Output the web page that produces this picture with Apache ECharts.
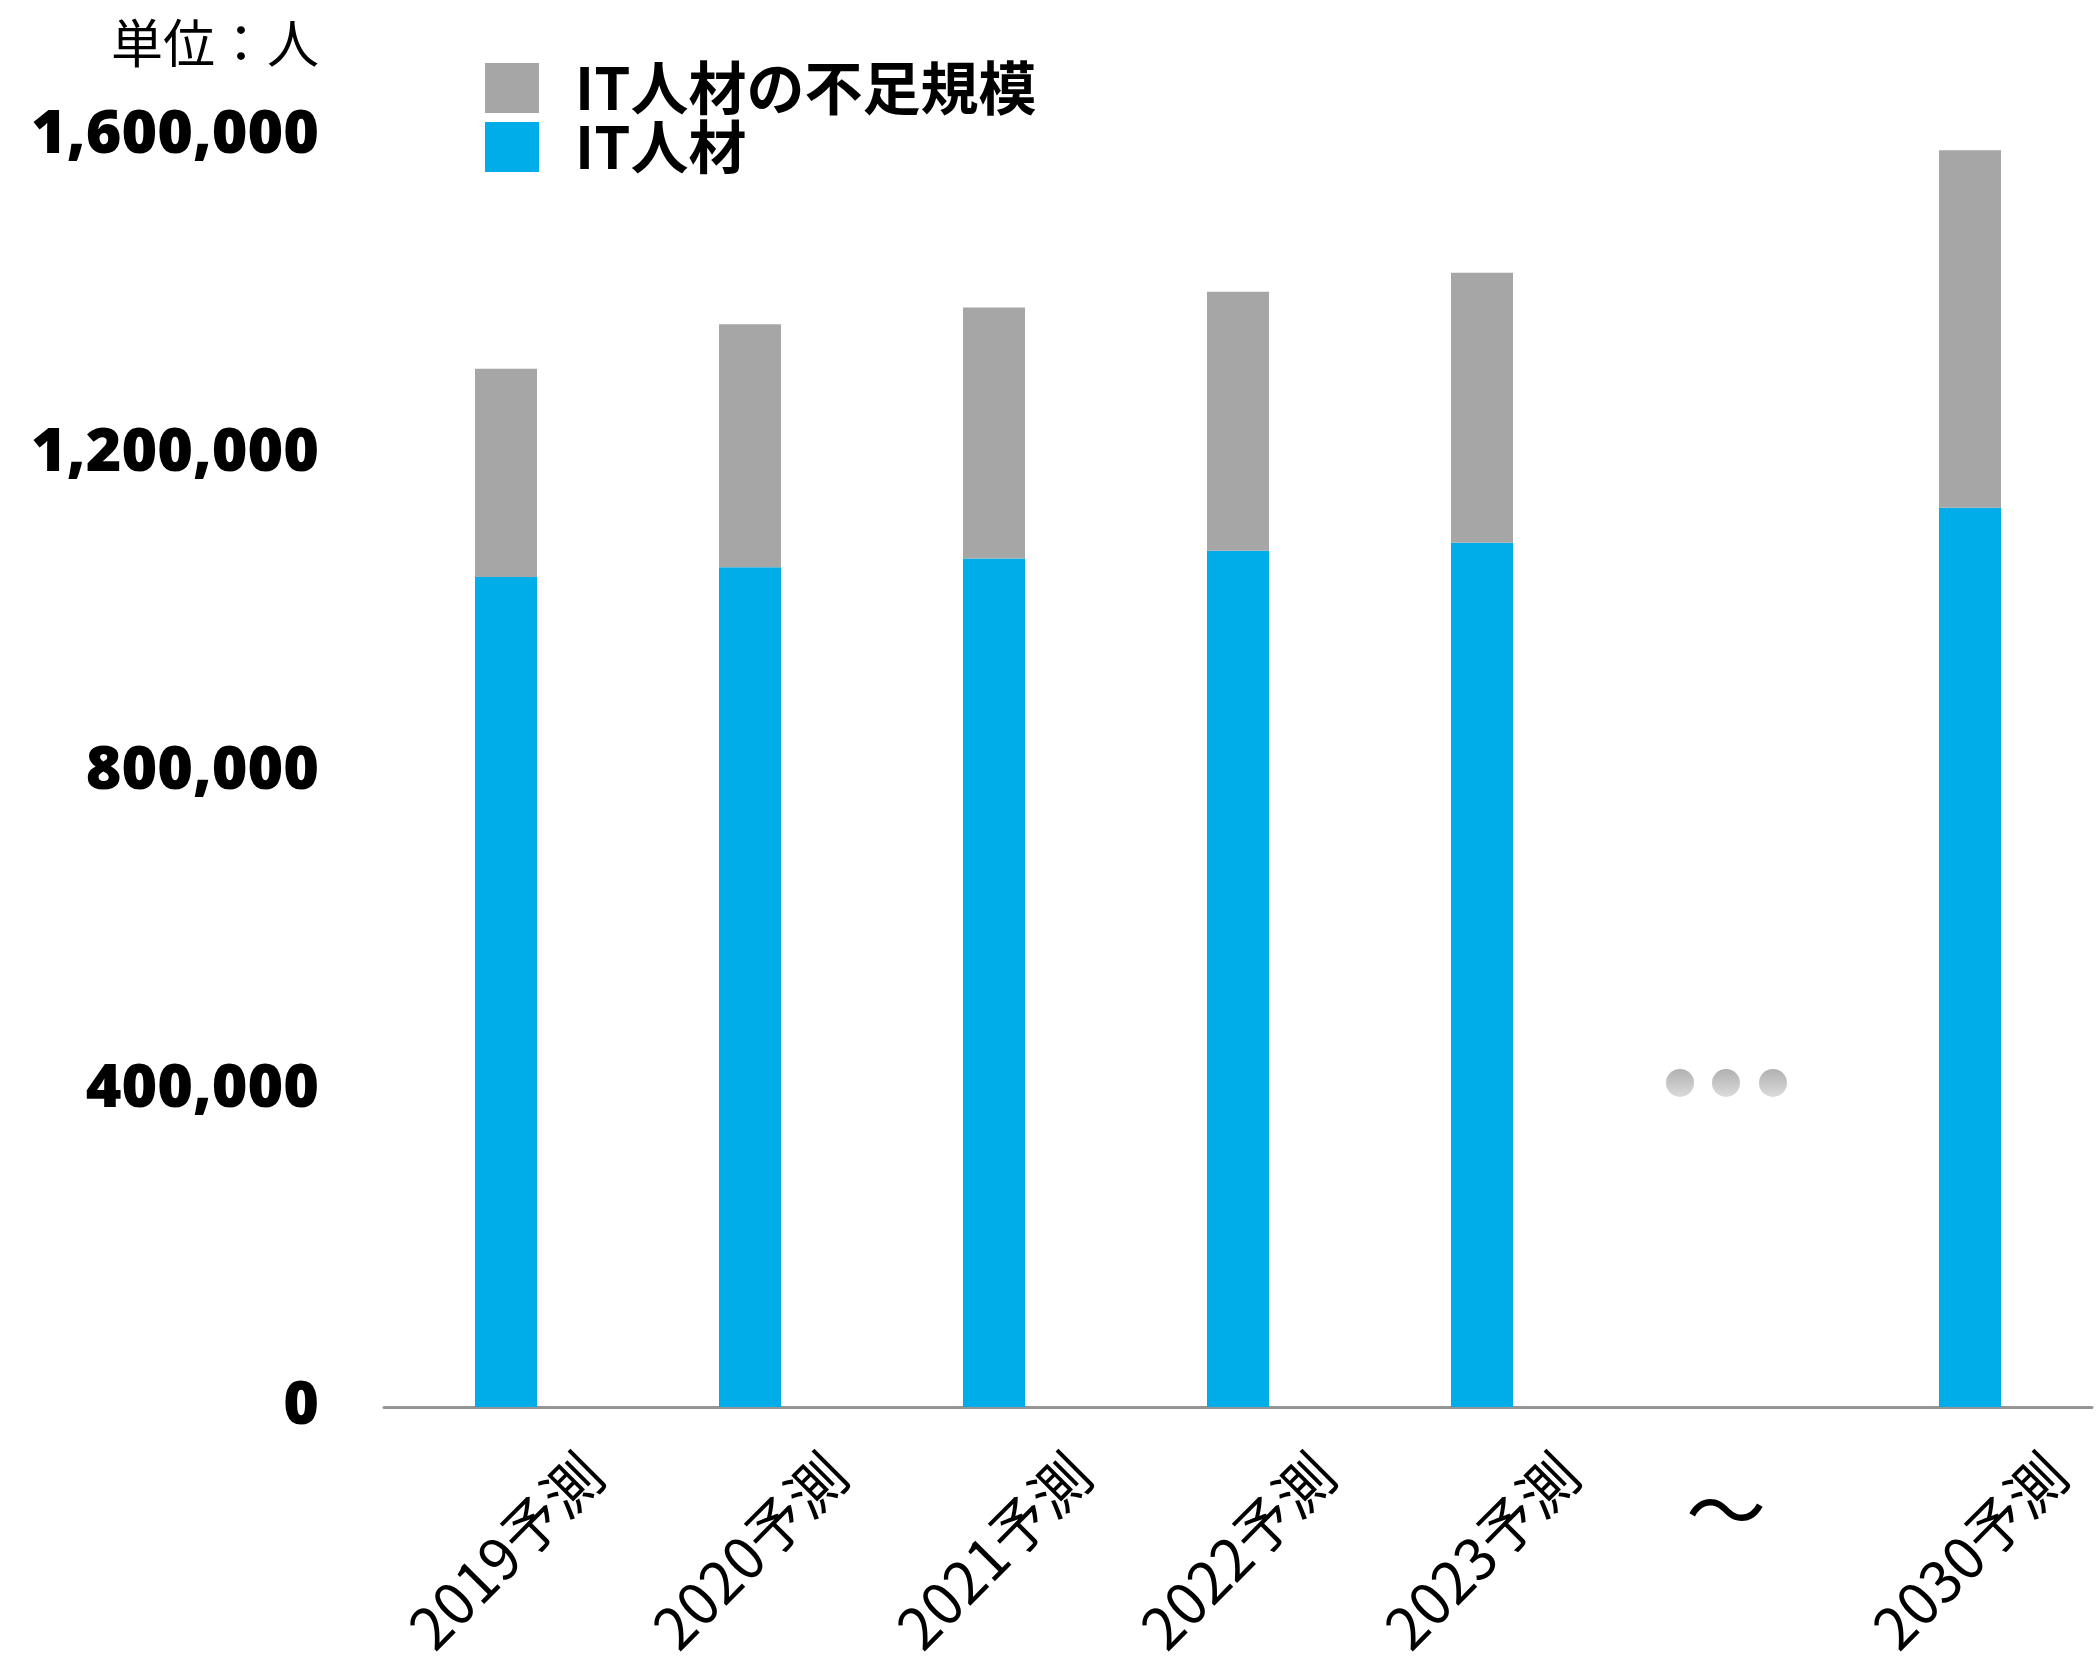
<!DOCTYPE html>
<html><head><meta charset="utf-8">
<script src="https://cdn.jsdelivr.net/npm/echarts@6/dist/echarts.min.js"></script>
<style>html,body{margin:0;padding:0;background:#fff}#c{width:2100px;height:1668px}</style>
</head><body><div id="c"></div>
<script>
// ---- data ----
const categories = ['2019予測', '2020予測', '2021予測', '2022予測', '2023予測', '～', '2030予測'];
const itJinzai = [1045000, 1057000, 1068000, 1078000, 1088000, null, 1132000];   // IT人材
const fusoku   = [262000, 306000, 316000, 326000, 340000, null, 450000];         // IT人材の不足規模
const yTicks = [0, 400000, 800000, 1200000, 1600000];
const gapCategory = '～';
const dotValues = [408000, 408000, 408000];
const unitLabel = '単位：人';
const seriesNames = ['IT人材の不足規模', 'IT人材'];

// ---- style ----
const BLUE = '#00ADE8', GRAY = '#A6A6A6';
const CJK = '"Noto Sans CJK JP", "Noto Sans", sans-serif';
const dotOffsets = [-46, 0, 47];

const chart = echarts.init(document.getElementById('c'), null, {renderer: 'canvas'});
chart.setOption({
  animation: false,
  backgroundColor: '#fff',
  grid: {left: 384, right: 8, top: 136, bottom: 261, containLabel: false},
  legend: {
    data: seriesNames,
    orient: 'vertical',
    left: 480, top: 54,
    itemWidth: 54, itemHeight: 50, itemGap: 1,
    icon: 'rect',
    textStyle: {fontFamily: CJK, fontSize: 58, fontWeight: 'bold', color: '#000', padding: [0, 0, 0, 31]},
    selectedMode: false
  },
  xAxis: [{
    type: 'category',
    data: categories,
    axisLine: {lineStyle: {color: '#959595', width: 3}},
    axisTick: {show: false},
    axisLabel: {
      interval: 0, rotate: 45, align: 'center', verticalAlign: 'middle', margin: 144,
      fontFamily: CJK, fontSize: 58, color: '#000',
      formatter: v => v === gapCategory ? '' : v
    }
  }, {
    type: 'category',
    data: categories,
    position: 'bottom',
    axisLine: {show: false},
    axisTick: {show: false},
    axisLabel: {
      interval: 0, rotate: 0, align: 'center', verticalAlign: 'middle', margin: 103,
      fontFamily: CJK, fontSize: 80, color: '#000',
      formatter: v => v === gapCategory ? v : ''
    }
  }],
  yAxis: {
    type: 'value',
    min: yTicks[0], max: yTicks[yTicks.length - 1], interval: yTicks[1] - yTicks[0],
    splitLine: {show: false},
    axisLine: {show: false},
    axisTick: {show: false},
    axisLabel: {
      margin: 65, fontFamily: '"Noto Sans", sans-serif', fontWeight: 900, fontSize: 61, color: '#000',
      formatter: v => v.toLocaleString('en-US')
    },
    name: unitLabel,
    nameLocation: 'end',
    nameGap: 93,
    nameTextStyle: {fontFamily: CJK, fontSize: 52, color: '#000', align: 'right', verticalAlign: 'middle', padding: [0, 65, 0, 0]}
  },
  series: [{
    name: seriesNames[1], type: 'bar', stack: 'total', data: itJinzai, barWidth: 62,
    itemStyle: {color: BLUE}
  }, {
    name: seriesNames[0], type: 'bar', stack: 'total', data: fusoku, barWidth: 62,
    itemStyle: {color: GRAY}
  }, {
    name: 'dots', type: 'scatter', symbol: 'circle', symbolSize: 28,
    data: dotValues.map((v, i) => ({value: [gapCategory, v], symbolOffset: [dotOffsets[i], 0]})),
    itemStyle: {color: new echarts.graphic.LinearGradient(0, 0, 0, 1, [
      {offset: 0, color: '#9C9C9C'}, {offset: 1, color: '#D2D2D2'}])},
    silent: true, z: 5
  }]
});
</script>
</body></html>
